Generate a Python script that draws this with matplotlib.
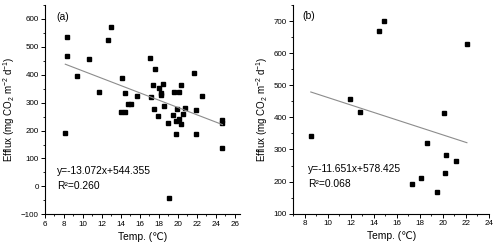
import matplotlib
matplotlib.use("Agg")
import matplotlib.pyplot as plt
from matplotlib.ticker import MultipleLocator
import numpy as np

plt.rcParams['font.family'] = ['Liberation Sans', 'DejaVu Sans']
plt.rcParams['mathtext.fontset'] = 'custom'
plt.rcParams['mathtext.rm'] = 'Liberation Sans'
plt.rcParams['mathtext.it'] = 'Liberation Sans:italic'

# Panel (a)
temp_a = [8.36, 8.36, 8.14, 9.39, 10.62, 11.64, 12.67, 12.98, 13.97, 14.15, 14.47, 14.47,
          14.8, 15.1, 15.66, 17.05, 17.55, 17.35, 17.2, 17.53, 17.88, 17.99, 18.2, 18.2,
          18.41, 18.52, 19.0, 19.05, 19.5, 19.57, 19.76, 19.76, 19.92, 20.1, 20.1, 20.33,
          20.33, 20.5, 20.76, 21.7, 21.95, 21.95, 22.55, 24.7, 24.7, 24.7]
efflux_a = [536, 466, 192, 397, 456, 340, 523, 573, 266, 390, 333, 268,
            297, 297, 323, 460, 422, 363, 320, 279, 254, 351, 333, 327,
            366, 288, 227, -43, 255, 337, 233, 188, 276, 337, 240, 363,
            224, 259, 280, 405, 275, 189, 323, 237, 228, 137]
slope_a, icpt_a = -13.072, 544.355
text_a = ["y=-13.072x+544.355", "R²=0.260"]

# Panel (b)
temp_b = [8.52, 11.96, 12.83, 14.46, 14.9, 17.34, 18.12, 18.6, 19.5, 20.1, 20.22, 20.3, 21.1, 22.08]
efflux_b = [343, 456, 416, 670, 701, 193, 212, 320, 167, 414, 228, 283, 264, 628]
slope_b, icpt_b = -11.651, 578.425
text_b = ["y=-11.651x+578.425", "R²=0.068"]

fig = plt.figure(figsize=(5.0, 2.52), dpi=100)
axa = fig.add_axes([0.09, 0.1496, 0.389, 0.8304])
axb = fig.add_axes([0.5866, 0.152, 0.3914, 0.828])

ylabel = "Efflux (mg CO$_2$ m$^{-2}$ d$^{-1}$)"

def style(ax, xlim, ylim, xmaj, ymaj):
    ax.set_xlim(*xlim)
    ax.set_ylim(*ylim)
    ax.xaxis.set_major_locator(MultipleLocator(xmaj))
    ax.xaxis.set_minor_locator(MultipleLocator(1))
    ax.yaxis.set_major_locator(MultipleLocator(ymaj))
    ax.yaxis.set_minor_locator(MultipleLocator(50))
    for s in ['top', 'right']:
        ax.spines[s].set_visible(False)
    for s in ['left', 'bottom']:
        ax.spines[s].set_linewidth(0.8)
    ax.tick_params(which='major', direction='out', length=3, width=0.7, labelsize=5.8, pad=1.5)
    ax.tick_params(which='minor', direction='out', length=1.6, width=0.6)
    ax.set_xlabel("Temp. (℃)", fontsize=7.4, labelpad=3)
    ax.set_ylabel(ylabel, fontsize=7.0, labelpad=3)

for ax, tx, ey, sl, ic, txt, lab, xlim, ylim, xpos, ypos in [
        (axa, temp_a, efflux_a, slope_a, icpt_a, text_a, "(a)", (6, 26.5), (-100, 650), (0.06, 0.058), (0.205, 0.135, 0.944)),
        (axb, temp_b, efflux_b, slope_b, icpt_b, text_b, "(b)", (7, 24), (100, 750), (0.077, 0.046), (0.214, 0.142, 0.947))]:
    style(ax, xlim, ylim, 2, 100)
    ax.plot(tx, ey, linestyle='none', marker='s', markersize=3.1, color='black')
    xs = np.array([min(tx), max(tx)])
    ax.plot(xs, sl * xs + ic, color='#8c8c8c', linewidth=0.8)
    ax.text(xpos[0], ypos[0], txt[0], transform=ax.transAxes, fontsize=7.4, va='center', ha='left')
    ax.text(xpos[0], ypos[1], txt[1], transform=ax.transAxes, fontsize=7.4, va='center', ha='left')
    ax.text(xpos[1], ypos[2], lab, transform=ax.transAxes, fontsize=7.5, va='center', ha='left')

fig.savefig("out.png", dpi=100)
